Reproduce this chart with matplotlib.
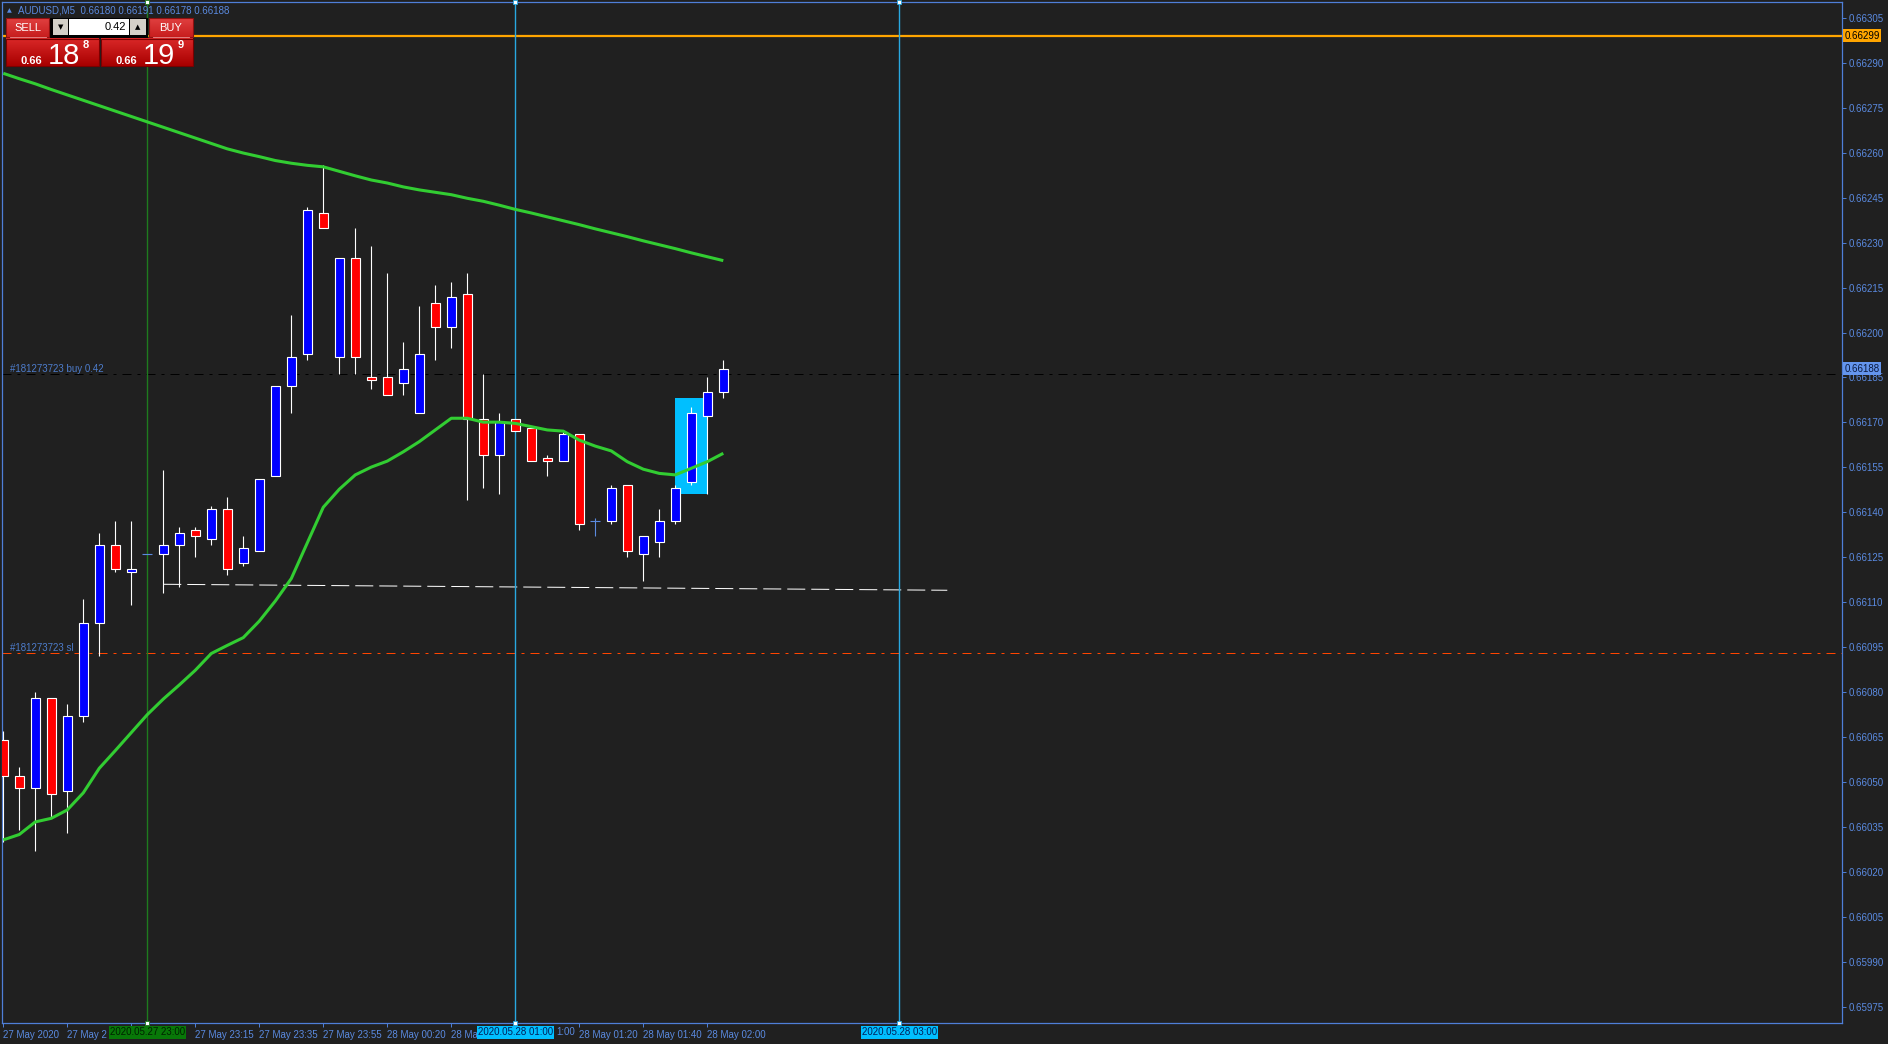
import matplotlib
matplotlib.use("Agg")
import matplotlib.pyplot as plt
import numpy as np
from matplotlib.patches import Rectangle
from matplotlib.colors import LinearSegmentedColormap

plt.rcParams['font.family'] = ['Liberation Sans', 'DejaVu Sans']

# AUDUSD M5 bars, index 0 = 27 May 22:15
opens = [0.66064, 0.66052, 0.66048, 0.66078, 0.66047, 0.66072, 0.66103, 0.66129, 0.66120, 0.66126,
         0.66126, 0.66129, 0.66134, 0.66131, 0.66141, 0.66123, 0.66127, 0.66152, 0.66182, 0.66193,
         0.66240, 0.66192, 0.66225, 0.66185, 0.66185, 0.66183, 0.66173, 0.66210, 0.66202, 0.66213,
         0.66171, 0.66159, 0.66171, 0.66168, 0.66158, 0.66157, 0.66166, 0.66137, 0.66137, 0.66149,
         0.66126, 0.66130, 0.66137, 0.66150, 0.66172, 0.66180]
highs = [0.66067, 0.66055, 0.66080, 0.66078, 0.66076, 0.66111, 0.66133, 0.66137, 0.66137, 0.66126,
         0.66154, 0.66135, 0.66135, 0.66142, 0.66145, 0.66132, 0.66151, 0.66182, 0.66206, 0.66242,
         0.66256, 0.66225, 0.66235, 0.66229, 0.66220, 0.66197, 0.66209, 0.66216, 0.66217, 0.66220,
         0.66186, 0.66173, 0.66171, 0.66168, 0.66159, 0.66167, 0.66166, 0.66138, 0.66149, 0.66149,
         0.66132, 0.66141, 0.66149, 0.66175, 0.66185, 0.66191]
lows = [0.66030, 0.66034, 0.66027, 0.66038, 0.66033, 0.66070, 0.66092, 0.66120, 0.66109, 0.66126,
        0.66113, 0.66115, 0.66125, 0.66129, 0.66119, 0.66122, 0.66127, 0.66152, 0.66173, 0.66191,
        0.66235, 0.66186, 0.66186, 0.66181, 0.66179, 0.66179, 0.66173, 0.66191, 0.66195, 0.66144,
        0.66148, 0.66146, 0.66167, 0.66157, 0.66152, 0.66157, 0.66134, 0.66132, 0.66136, 0.66125,
        0.66117, 0.66125, 0.66136, 0.66149, 0.66146, 0.66178]
closes = [0.66052, 0.66048, 0.66078, 0.66046, 0.66072, 0.66103, 0.66129, 0.66121, 0.66121, 0.66126,
          0.66129, 0.66133, 0.66132, 0.66141, 0.66121, 0.66128, 0.66151, 0.66182, 0.66192, 0.66241,
          0.66235, 0.66225, 0.66192, 0.66184, 0.66179, 0.66188, 0.66193, 0.66202, 0.66212, 0.66171,
          0.66159, 0.66170, 0.66167, 0.66157, 0.66157, 0.66166, 0.66136, 0.66137, 0.66148, 0.66127,
          0.66132, 0.66137, 0.66148, 0.66173, 0.66180, 0.66188]

# moving averages (green)
ma_slow = [0.662865, 0.662847, 0.662830, 0.662811, 0.662793, 0.662775, 0.662757, 0.662739, 0.662721, 0.662703,
           0.662685, 0.662667, 0.662649, 0.662631, 0.662613, 0.662599, 0.662587, 0.662574, 0.662565, 0.662558,
           0.662553, 0.662538, 0.662523, 0.662509, 0.662499, 0.662486, 0.662476, 0.662468, 0.662460, 0.662448,
           0.662438, 0.662425, 0.662411, 0.662399, 0.662386, 0.662373, 0.662360, 0.662346, 0.662333, 0.662320,
           0.662306, 0.662293, 0.662280, 0.662266, 0.662253, 0.662240]
ma_fast = [0.660307, 0.660325, 0.660367, 0.660379, 0.660407, 0.660464, 0.660546, 0.660605, 0.660665, 0.660725,
           0.660777, 0.660824, 0.660873, 0.660929, 0.660956, 0.660982, 0.661037, 0.661104, 0.661179, 0.661298,
           0.661417, 0.661477, 0.661525, 0.661551, 0.661571, 0.661602, 0.661636, 0.661675, 0.661714, 0.661714,
           0.661701, 0.661701, 0.661697, 0.661686, 0.661675, 0.661671, 0.661641, 0.661621, 0.661605, 0.661569,
           0.661544, 0.661530, 0.661525, 0.661547, 0.661569, 0.661597]

# labels partly hidden behind the line labels are cut as in the terminal
time_ticks = [0, 4, 8, 12, 16, 20, 24, 28, 32, 36, 40, 44]
time_labels = ['27 May 2020', '27 May 2', '', '27 May 23:15', '27 May 23:35', '27 May 23:55',
               '28 May 00:20', '28 Ma', '', '28 May 01:20', '28 May 01:40', '28 May 02:00']
price_ticks = [0.65975, 0.65990, 0.66005, 0.66020, 0.66035, 0.66050, 0.66065, 0.66080, 0.66095,
               0.66110, 0.66125, 0.66140, 0.66155, 0.66170, 0.66185, 0.66200, 0.66215, 0.66230,
               0.66245, 0.66260, 0.66275, 0.66290, 0.66305]

# objects on chart
vlines_idx = [9, 32, 56]
vlines_lbl = ['2020.05.27 23:00', '2020.05.28 01:00', '2020.05.28 03:00']
alert_level = 0.66299
buy_level = 0.66186
sl_level = 0.66093
trend_x = [10, 59]
trend_y = [0.66116, 0.66114]
box_x = [42, 44]
box_y = [0.66146, 0.66178]
bid, ask, lot = 0.66188, 0.66199, 0.42

bg = '#202020'
frame = '#4F7FD8'
txt = '#5A8AE0'
green = '#32CD32'
px = 0.72  # one pixel in points at dpi 100

fig = plt.figure(figsize=(18.88, 10.44), dpi=100)
fig.patch.set_facecolor(bg)
ax = fig.add_axes([2 / 1888, 21 / 1044, 1840 / 1888, 1021 / 1044])
ax.set_facecolor(bg)

x = np.arange(len(opens))
o, h, l, c = (np.array(v) for v in (opens, highs, lows, closes))
up = c > o
dn = c < o
dj = c == o

# cyan box behind candles
ax.add_patch(Rectangle((box_x[0], box_y[0]), box_x[1] - box_x[0], box_y[1] - box_y[0],
                       facecolor='#00BFFF', edgecolor='none', zorder=1))

ax.vlines(x[~dj], l[~dj], h[~dj], color='white', lw=0.8, zorder=3)
ax.bar(x[up], c[up] - o[up], bottom=o[up], width=0.58, color='#0000FF', edgecolor='white', lw=0.8, zorder=4)
ax.bar(x[dn], o[dn] - c[dn], bottom=c[dn], width=0.58, color='#FF0000', edgecolor='white', lw=0.8, zorder=4)
ax.vlines(x[dj], l[dj], h[dj], color='#5B8BDF', lw=0.8, zorder=4)
ax.hlines(c[dj], x[dj] - 0.31, x[dj] + 0.31, color='#5B8BDF', lw=0.8, zorder=4)

ax.plot(x, ma_slow, color=green, lw=2.2, zorder=6, solid_capstyle='butt')
ax.plot(x, ma_fast, color=green, lw=2.2, zorder=6, solid_capstyle='butt')

# horizontal levels
ax.axhline(alert_level, color='#FFA500', lw=1.6, zorder=2)
ax.axhline(buy_level, color='black', lw=px, dashes=(9, 6, 3, 6), zorder=2)
ax.axhline(sl_level, color='#FF4500', lw=px, dashes=(9, 6, 3, 6), zorder=2)
ax.plot(trend_x, trend_y, color='white', lw=px, dashes=(18, 6), zorder=2)
ax.text(0.42, buy_level, '#181273723 buy 0.42', color='#4D7CCB', fontsize=7,
        va='bottom', ha='left')
ax.text(0.42, sl_level, '#181273723 sl', color='#4D7CCB', fontsize=7,
        va='bottom', ha='left')

# vertical lines with time labels
vcols = ['#1E7B1E', '#29A8E0', '#29A8E0']
vbox = ['#087808', '#00BFFF', '#00BFFF']
vtxt = ['#002200', '#00205A', '#00205A']
xt = ax.get_xaxis_transform()
for xi, lbl, lc, bc, tc in zip(vlines_idx, vlines_lbl, vcols, vbox, vtxt):
    ax.axvline(xi, color=lc, lw=1.0, zorder=2)
    ax.plot([xi, xi], [0, 1], ls='none', marker='s', ms=3.5, mfc='white', mec=lc, mew=0.6,
            transform=xt, clip_on=False, zorder=8)
    ax.text(xi, -0.0093, lbl, transform=xt, ha='center', va='center', fontsize=7, color=tc,
            zorder=9, bbox=dict(boxstyle='square,pad=0.12', fc=bc, ec='none'))
# tail of the 01:00 label that sticks out from behind the box
ax.text(34.57, -0.0093, '1:00', transform=xt, ha='left', va='center', fontsize=7, color=txt)

ax.set_xlim(-0.08, 114.92)
ax.set_ylim(0.659696, 0.663103)

ax.yaxis.tick_right()
ax.set_yticks(price_ticks)
ax.set_yticklabels([f'{v:.5f}' for v in price_ticks])
ax.set_xticks(time_ticks)
ax.set_xticklabels(time_labels, ha='left')
ax.tick_params(axis='both', colors=frame, labelcolor=txt, labelsize=7, length=3, width=0.7, pad=2)
for s in ax.spines.values():
    s.set_color(frame)
    s.set_linewidth(0.9)

# price boxes on the scale
yt = ax.get_yaxis_transform()
ax.text(1.0012, alert_level, f'{alert_level:.5f}', transform=yt, ha='left', va='center', fontsize=7,
        color='black', bbox=dict(boxstyle='square,pad=0.15', fc='#FFA500', ec='none'), zorder=9)
ax.text(1.0012, bid, f'{bid:.5f}', transform=yt, ha='left', va='center', fontsize=7,
        color='#0A1A40', bbox=dict(boxstyle='square,pad=0.15', fc='#6495ED', ec='none'), zorder=9)

# overlay: header and one-click panel (pixel coordinates)
ov = fig.add_axes([0, 0, 1, 1], zorder=10)
ov.set_xlim(0, 1888)
ov.set_ylim(1044, 0)
ov.set_autoscale_on(False)
ov.axis('off')


def grad_box(x0, y0, x1, y1, top, bottom, edge):
    g = np.linspace(0, 1, 32).reshape(-1, 1)
    cm = LinearSegmentedColormap.from_list('g', [top, bottom])
    ov.imshow(g, extent=(x0, x1, y1, y0), cmap=cm, aspect='auto', zorder=1)
    ov.add_patch(Rectangle((x0, y0), x1 - x0, y1 - y0, fill=False, ec=edge, lw=0.8, zorder=2))


ov.text(7, 10.5, '\u25b2', fontsize=4.5, color=txt, ha='left', va='center', family='DejaVu Sans')
ov.text(18, 10.5, f'AUDUSD,M5  {opens[-1]:.5f} {highs[-1]:.5f} {lows[-1]:.5f} {closes[-1]:.5f}',
        fontsize=7, color=txt, ha='left', va='center')

grad_box(6, 18, 49, 37, '#E04040', '#C81E1E', '#901010')
grad_box(149, 18, 193, 37, '#E04040', '#C81E1E', '#901010')
ov.plot([10, 46], [36.5, 36.5], color='#F09090', lw=0.6, zorder=3)
ov.plot([153, 189], [36.5, 36.5], color='#F09090', lw=0.6, zorder=3)
ov.text(27.5, 28, 'SELL', color='white', fontsize=8, ha='center', va='center', zorder=4)
ov.text(171, 28, 'BUY', color='white', fontsize=8, ha='center', va='center', zorder=4)

ov.add_patch(Rectangle((50, 17.5), 97, 19.5, fc='black', ec='black', lw=0.8, zorder=1))
ov.add_patch(Rectangle((53, 19), 15, 16, fc='#D4D0C8', ec='none', zorder=2))
ov.add_patch(Rectangle((69, 19), 60, 16, fc='white', ec='none', zorder=2))
ov.add_patch(Rectangle((130, 19), 16, 16, fc='#D4D0C8', ec='none', zorder=2))
ov.text(60.5, 27.5, '\u25bc', fontsize=5, color='black', ha='center', va='center', family='DejaVu Sans', zorder=3)
ov.text(138, 27, '\u25b2', fontsize=5, color='black', ha='center', va='center', family='DejaVu Sans', zorder=3)
ov.text(126, 27.5, f'{lot:.2f}', fontsize=8, color='black', ha='right', va='center', zorder=3)

grad_box(6, 38.5, 99, 66, '#DA2828', '#A80000', '#7A0000')
grad_box(101, 38.5, 193, 66, '#DA2828', '#A80000', '#7A0000')
for p, cx in ((bid, 0), (ask, 95)):
    s = f'{p:.5f}'
    ov.text(31 + cx, 63.5, s[:4], color='white', fontsize=8, fontweight='bold', ha='center', va='baseline', zorder=4)
    ov.text(63.5 + cx, 63.5, s[4:6], color='white', fontsize=21, ha='center', va='baseline', zorder=4)
    ov.text(86 + cx, 47.5, s[6], color='white', fontsize=8, fontweight='bold', ha='center', va='baseline', zorder=4)

fig.savefig('out.png', dpi=100, facecolor=bg)
